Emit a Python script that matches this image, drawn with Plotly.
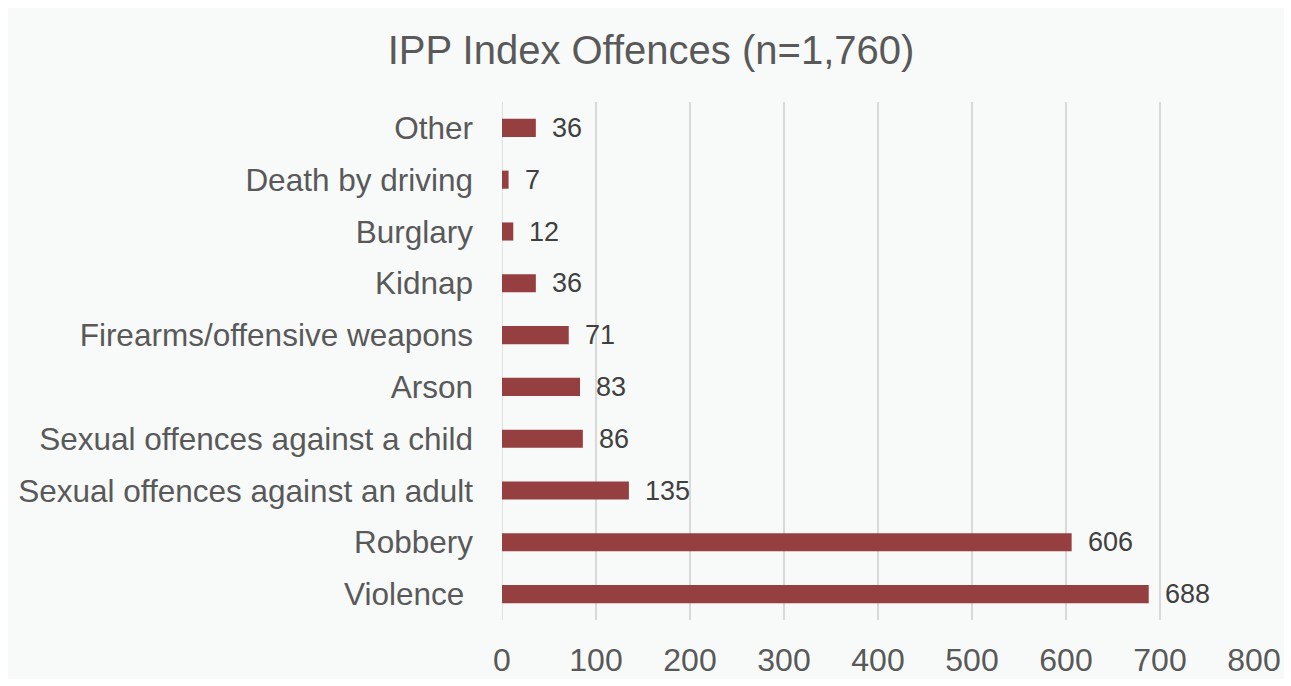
import plotly.graph_objects as go

categories = ["Other", "Death by driving", "Burglary", "Kidnap",
              "Firearms/offensive weapons", "Arson",
              "Sexual offences against a child",
              "Sexual offences against an adult", "Robbery", "Violence "]
values = [36, 7, 12, 36, 71, 83, 86, 135, 606, 688]
x_ticks = [0, 100, 200, 300, 400, 500, 600, 700, 800]

W, H = 1291, 686
L, R, T, B = 502, 37, 102, 66
pw, ph = W - L - R, H - T - B

def px2x(px):
    return (px - L) / pw

def py2y(py):
    return (H - B - py) / ph

text_col = "#595959"
bar_col = "#953f40"
FONT = "Liberation Sans, Arial, sans-serif"

fig = go.Figure()
fig.add_trace(go.Bar(
    x=values, y=categories, orientation="h",
    marker=dict(color=bar_col, line=dict(width=0)),
    width=0.35, hoverinfo="skip",
))

for c, v in zip(categories, values):
    fig.add_annotation(x=v, y=c, text=str(v), showarrow=False,
                       xanchor="left", xshift=14,
                       font=dict(size=27, color="#404040", family=FONT))

fig.add_shape(type="rect", xref="paper", yref="paper",
              x0=px2x(8), x1=px2x(1284), y0=py2y(679), y1=py2y(8),
              fillcolor="#f8fafa", line=dict(width=0), layer="below")

fig.update_layout(
    template="none",
    width=W, height=H,
    margin=dict(l=L, r=R, t=T, b=B, pad=0),
    paper_bgcolor="white",
    plot_bgcolor="rgba(0,0,0,0)",
    showlegend=False,
    font=dict(family=FONT, color=text_col),
    title=dict(text="IPP Index Offences (n=1,760)", x=651 / W, xref="container",
               xanchor="center", y=1 - 50 / H, yanchor="middle",
               font=dict(size=40, color=text_col)),
    xaxis=dict(range=[0, 800], tickvals=x_ticks, showgrid=True,
               gridcolor="#d9d9d9", gridwidth=1.5, zeroline=False,
               showline=False, ticks="", tickfont=dict(size=32, color=text_col),
               ticklabelstandoff=18, fixedrange=True, automargin=False),
    yaxis=dict(autorange="reversed", showgrid=False, zeroline=False,
               showline=False, ticks="", tickfont=dict(size=31.5, color=text_col),
               ticklabelstandoff=28, fixedrange=True, automargin=False),
)
fig.add_vline(x=0, line=dict(color="#d9d9d9", width=1.5), layer="below")

fig.write_html("out.html", config={"displayModeBar": False},
               post_script="document.body.style.margin='0px';")
